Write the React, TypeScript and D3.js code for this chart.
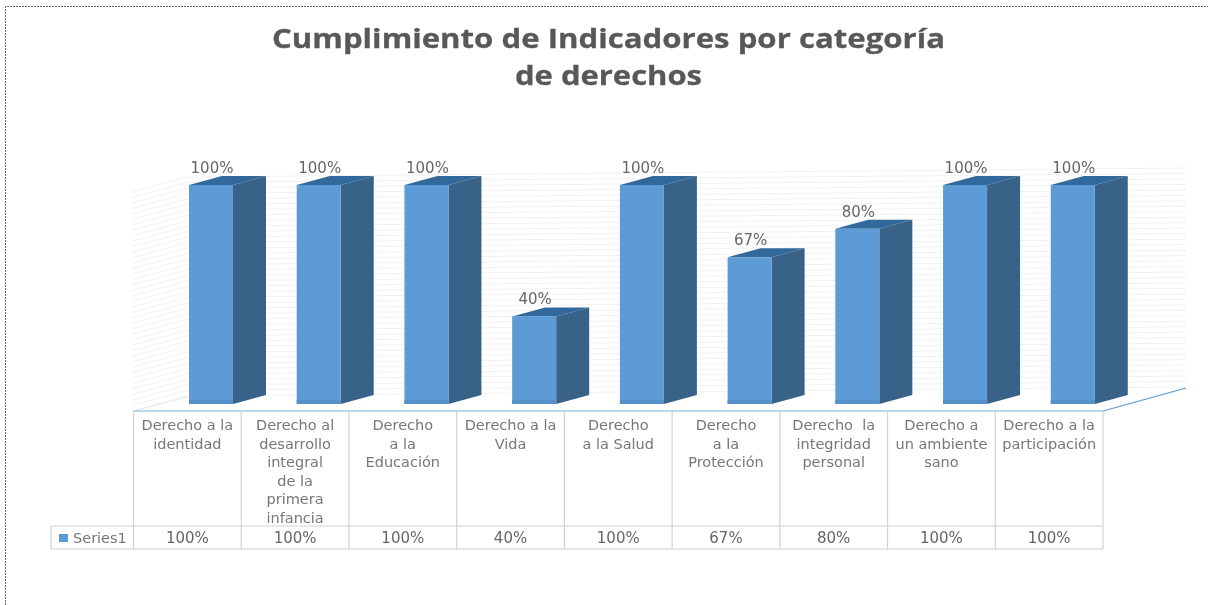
import React from "react";
import * as d3 from "d3";

const categoryLines: string[][] = [
  ["Derecho a la", "identidad"],
  ["Derecho al", "desarrollo", "integral", "de la", "primera", "infancia"],
  ["Derecho", "a la", "Educación"],
  ["Derecho a la", "Vida"],
  ["Derecho", "a la Salud"],
  ["Derecho", "a la", "Protección"],
  ["Derecho  la", "integridad", "personal"],
  ["Derecho a", "un ambiente", "sano"],
  ["Derecho a la", "participación"],
];
const values = [100, 100, 100, 40, 100, 67, 80, 100, 100];
const seriesName = "Series1";
const titleLines = ["Cumplimiento de Indicadores por categoría", "de derechos"];
const titleWidths = [673, 187];
const gridValues = d3.range(0, 101, 2.5);

const W = 1208, H = 605;
const tableL = 133.5, tableR = 1103, tableT = 411, tableM = 526, tableB = 549, legendL = 51;
const floorY = 404, topY = 185;
const depthX = 33, depthY = -9;
const frontW = 44;
const wallX = 187, wallR = 1186;
const titleFont = "'Open Sans', sans-serif";
const font = "'DejaVu Sans', sans-serif";

export default function App() {
  const idx = values.map((_, i) => i);
  const x = d3.scaleBand<number>().domain(idx).range([tableL, tableR]);
  const y = d3.scaleLinear().domain([0, 100]).range([floorY, topY]);
  const poly = (p: [number, number][]) => p.map((q) => q.join(",")).join(" ");
  return (
    <svg width={W} height={H} style={{ position: "absolute", left: 0, top: 0, background: "#fff" }}>
      <defs>
        <filter id="soft" x="-5%" y="-5%" width="110%" height="110%">
          <feGaussianBlur stdDeviation="0.6" />
        </filter>
      </defs>
      <path d={`M5.5 ${H} V6.5 H${W}`} fill="none" stroke="#666" strokeWidth={1} strokeDasharray="2 1" />
      <g filter="url(#soft)">
        {titleLines.map((t, i) => (
          <text key={i} x={608.5} y={47.5 + i * 37} textAnchor="middle" fontFamily={titleFont} fontWeight={700}
            fontSize={27} fill="#595959" stroke="#595959" strokeWidth={0.3}
            textLength={titleWidths[i]} lengthAdjust="spacingAndGlyphs">
            {t}
          </text>
        ))}
        {gridValues.map((v) => (
          <polyline key={v} fill="none" stroke="#f1f1f1" strokeWidth={1}
            points={poly([[wallX - 55, y(v) + 7], [wallX, y(v) - 8], [wallR, y(v) - 17]])} />
        ))}
        <line x1={tableL} y1={tableT} x2={wallX} y2={397} stroke="#dfe9f4" strokeWidth={1} />
        <line x1={tableR} y1={tableT} x2={wallR} y2={388} stroke="#5b9bd5" strokeWidth={1.2} />
        <line x1={tableL} y1={tableT} x2={tableR} y2={tableT} stroke="#7fb0dc" strokeWidth={1.2} />

        {values.map((v, i) => {
          const l = (x(i) as number) + 55.5;
          const r = l + frontW;
          const t = y(v);
          return (
            <g key={i}>
              <polygon fill="#33699c" points={poly([[l, t], [r, t], [r + depthX, t + depthY], [l + depthX, t + depthY]])} />
              <polygon fill="#386288" points={poly([[r, t], [r + depthX, t + depthY], [r + depthX, floorY + depthY], [r, floorY]])} />
              <rect x={l} y={t} width={frontW} height={floorY - t} fill="#5b9bd5" />
              <rect x={l} y={floorY - 4} width={frontW} height={4} fill="#5590c8" />
              <text x={l + 23} y={t - 12} textAnchor="middle" fontFamily={font} fontSize={15} fill="#666">{v}%</text>
            </g>
          );
        })}

        <g fill="none" stroke="#d2d2d2" strokeWidth={1.2}>
          <line x1={legendL} y1={tableM} x2={tableR} y2={tableM} />
          <line x1={legendL} y1={tableB} x2={tableR} y2={tableB} />
          <line x1={legendL} y1={tableM} x2={legendL} y2={tableB} />
          {d3.range(0, values.length + 1).map((i) => {
            const px = i < values.length ? (x(i) as number) : tableR;
            return <line key={i} x1={px} y1={tableT + 1} x2={px} y2={tableB} />;
          })}
        </g>
        {categoryLines.map((lines, i) => (
          <text key={i} textAnchor="middle" fontFamily={font} fontSize={14.5} fill="#777" style={{ whiteSpace: "pre" }}>
            {lines.map((s, j) => (
              <tspan key={j} x={(x(i) as number) + x.bandwidth() / 2} y={430 + j * 18.6}>{s}</tspan>
            ))}
          </text>
        ))}
        <rect x={59} y={534} width={9} height={8} fill="#5b9bd5" />
        <text x={73} y={543} fontFamily={font} fontSize={14.5} fill="#777">{seriesName}</text>
        {values.map((v, i) => (
          <text key={i} x={(x(i) as number) + x.bandwidth() / 2} y={543} textAnchor="middle" fontFamily={font} fontSize={15} fill="#666">{v}%</text>
        ))}
      </g>
    </svg>
  );
}
